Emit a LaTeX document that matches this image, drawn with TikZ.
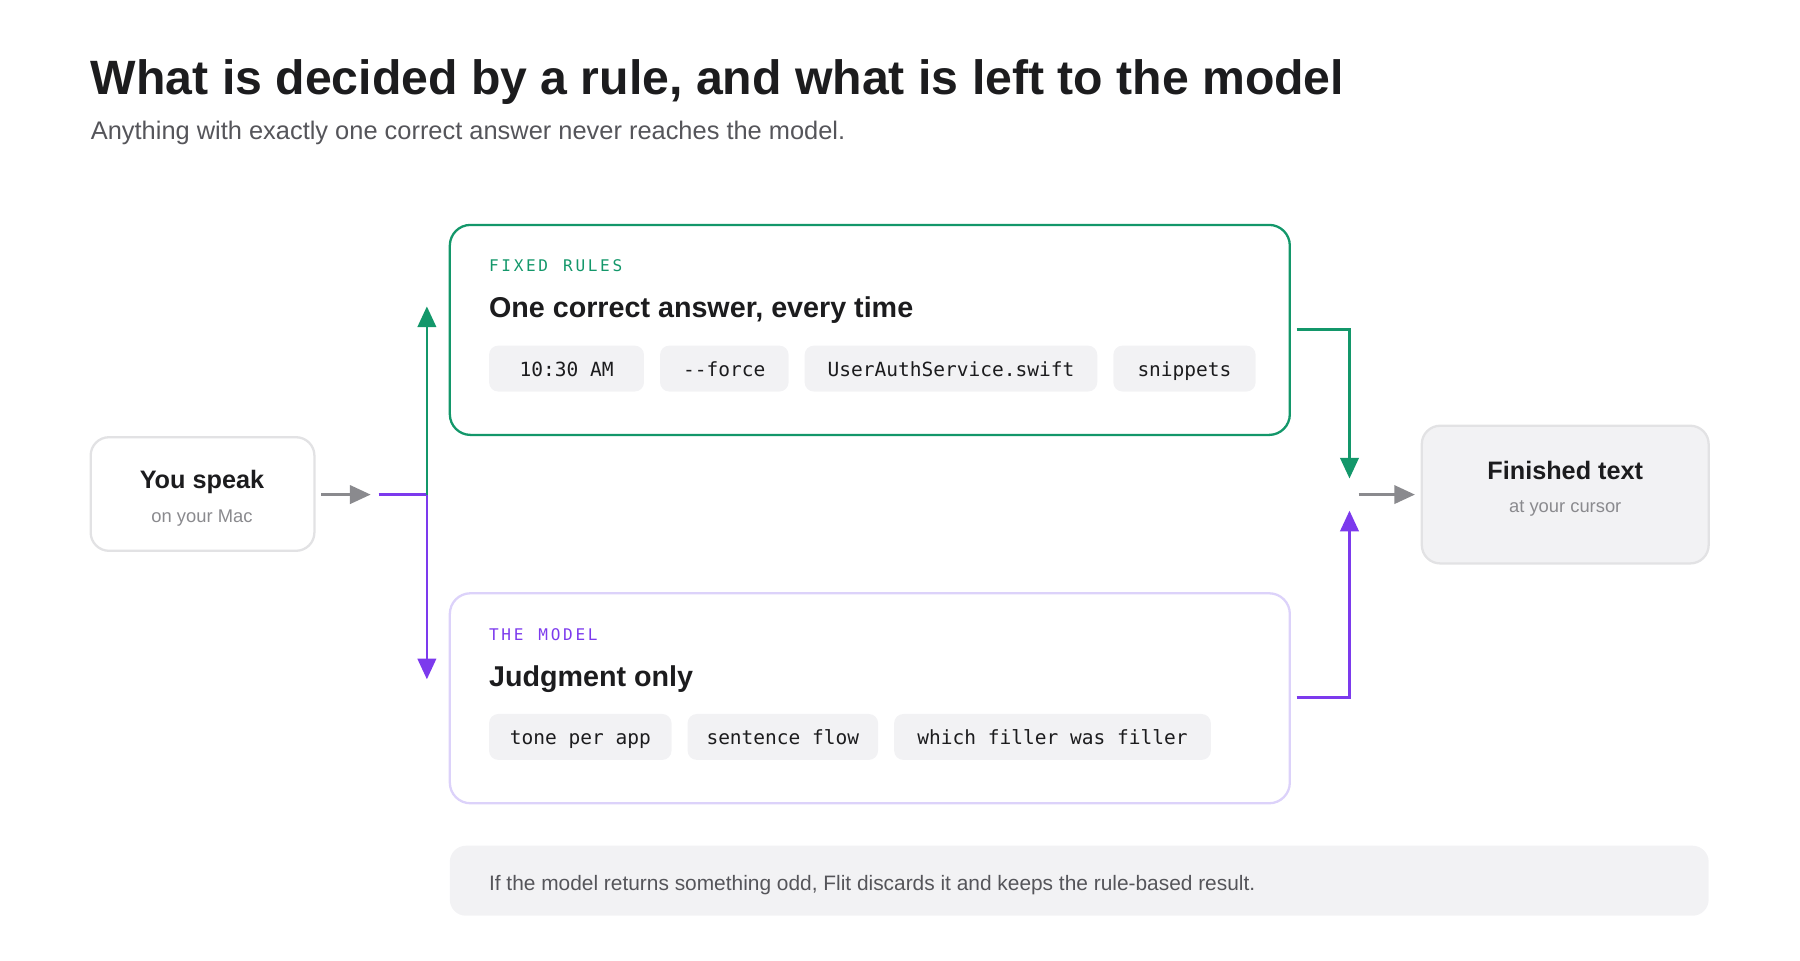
\documentclass[tikz,border=0pt]{standalone}
\usepackage{fontspec}
\setmainfont{Liberation Sans}
\setmonofont{DejaVu Sans Mono}
\usetikzlibrary{arrows.meta}
\definecolor{grn}{HTML}{13976A}
\definecolor{pur}{HTML}{7C3AED}
\definecolor{lav}{HTML}{DCD2FA}
\definecolor{chip}{HTML}{F2F2F4}
\definecolor{bord}{HTML}{E2E2E4}
\definecolor{ink}{HTML}{1C1C1E}
\definecolor{sub}{HTML}{55555A}
\definecolor{gr}{HTML}{8A8A8E}
\begin{document}
\begin{tikzpicture}[x=1pt,y=-1pt,
  chipst/.style={fill=chip,rounded corners=8pt,inner sep=0pt,font=\ttfamily\fontsize{17}{20}\selectfont,text=ink,anchor=north west,minimum height=40pt,text height=14pt,text depth=1pt},
  lbl/.style={anchor=base west,inner sep=0pt},
  conn/.style={line width=2.4pt,-{Triangle[length=18pt,width=16pt]}},
  plain/.style={line width=2.4pt}]
\path[use as bounding box] (0,0) rectangle (1568.6,836.6);
\node[lbl,text=ink,font=\bfseries\fontsize{42}{50}\selectfont] (title) at (79,82) {What is decided by a rule, and what is left to the model};
\node[lbl,text=sub,font=\fontsize{22.15}{26}\selectfont] (subt) at (79,122) {Anything with exactly one correct answer never reaches the model.};
% boxes
\draw[grn,line width=2pt,rounded corners=18pt] (392,196) rectangle (1124,379);
\node[lbl,text=grn,font=\ttfamily\fontsize{14}{16}\selectfont] (fr) at (426,237) {F\,I\,X\,E\,D\, \,R\,U\,L\,E\,S};
\node[lbl,text=ink,font=\bfseries\fontsize{25}{30}\selectfont] (fh) at (426,277) {One correct answer, every time};
\node[chipst,minimum width=135pt] (c1) at (426,301) {10:30 AM};
\node[chipst,minimum width=112pt] (c2) at (575,301) {-{}-force};
\node[chipst,minimum width=255pt] (c3) at (701,301) {UserAuthService.swift};
\node[chipst,minimum width=124pt] (c4) at (970,301) {snippets};
\draw[lav,line width=2pt,rounded corners=18pt] (392,517) rectangle (1124,700);
\node[lbl,text=pur,font=\ttfamily\fontsize{14}{16}\selectfont] (tm) at (426,558) {T\,H\,E\, \,M\,O\,D\,E\,L};
\node[lbl,text=ink,font=\bfseries\fontsize{25}{30}\selectfont] (mh) at (426,598) {Judgment only};
\node[chipst,minimum width=159pt] (d1) at (426,622) {tone per app};
\node[chipst,minimum width=166pt] (d2) at (599,622) {sentence flow};
\node[chipst,minimum width=276pt] (d3) at (779,622) {which filler was filler};
% you speak
\draw[bord,fill=white,line width=2pt,rounded corners=16pt] (79,381) rectangle (274,480);
\node[text=ink,font=\bfseries\fontsize{22}{26}\selectfont,anchor=base] (ys) at (176,426) {You speak};
\node[text=gr,font=\fontsize{16}{20}\selectfont,anchor=base] (ym) at (176,455) {on your Mac};
\draw[bord,fill=chip,line width=2pt,rounded corners=16pt] (1239,371) rectangle (1489,491);
\node[text=ink,font=\bfseries\fontsize{22}{26}\selectfont,anchor=base] (ft) at (1364,418) {Finished text};
\node[text=gr,font=\fontsize{16}{20}\selectfont,anchor=base] (fc) at (1364,447) {at your cursor};
\fill[chip,rounded corners=14pt] (392,737) rectangle (1489,798);
\node[lbl,text=sub,font=\fontsize{18.2}{22}\selectfont] (note) at (426,776) {If the model returns something odd, Flit discards it and keeps the rule-based result.};
% connectors
\coordinate (a0) at (280,431); \coordinate (a1) at (323,431);
\coordinate (s0) at (330,431); \coordinate (sp) at (372,431);
\coordinate (gu) at (372,267); \coordinate (pd) at (372,592);
\coordinate (g0) at (1130,287); \coordinate (g1) at (1176,287); \coordinate (gd) at (1176,417);
\coordinate (p0) at (1130,608); \coordinate (p1) at (1176,608); \coordinate (pu) at (1176,445);
\coordinate (b0) at (1184,431); \coordinate (b1) at (1233,431);
\draw[conn,gr] (a0) -- (a1);
\draw[plain,pur] (s0) -- (sp);
\draw[conn,grn] (sp) -- (gu);
\draw[conn,pur] (sp) -- (pd);
\draw[conn,grn] (g0) -- (g1) -- (gd);
\draw[conn,pur] (p0) -- (p1) -- (pu);
\draw[conn,gr] (b0) -- (b1);
\end{tikzpicture}
\end{document}
